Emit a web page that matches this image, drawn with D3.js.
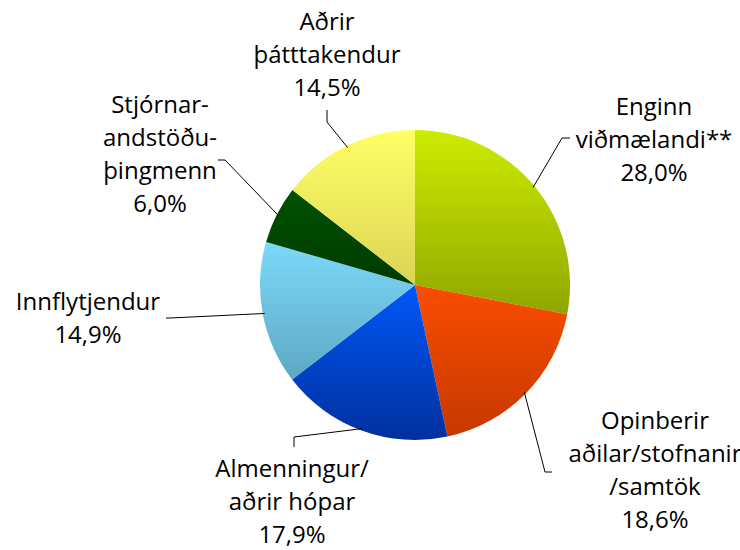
<!DOCTYPE html>
<html>
<head>
<meta charset="utf-8">
<script src="https://cdn.jsdelivr.net/npm/d3@7"></script>
<style>
  body { margin: 0; background: #fff; }
  text { font-family: "Open Sans", sans-serif; font-size: 24px; fill: #000; }
</style>
</head>
<body>
<svg width="740" height="550"></svg>
<script>
// ### Data ###
var categories = ['Enginn viðmælandi**', 'Opinberir aðilar/stofnanir/samtök', 'Almenningur/aðrir hópar',
                  'Innflytjendur', 'Stjórnarandstöðuþingmenn', 'Aðrir þátttakendur'];
var values = [28.0, 18.6, 17.9, 14.9, 6.0, 14.5];
var valueLabels = ['28,0%', '18,6%', '17,9%', '14,9%', '6,0%', '14,5%'];
var labelLines = [
  ['Enginn', 'viðmælandi**'],
  ['Opinberir', 'aðilar/stofnanir', '/samtök'],
  ['Almenningur/', 'aðrir hópar'],
  ['Innflytjendur'],
  ['Stjórnar-', 'andstöðu-', 'þingmenn'],
  ['Aðrir', 'þátttakendur']
];

// gradient top / bottom colours for each slice
var topColors = ['#cdec00', '#fa4d00', '#0058f8', '#7cd9f9', '#005200', '#ffff66'];
var bottomColors = ['#8fa600', '#c63800', '#00309e', '#5ea8c4', '#003a00', '#dad455'];

// ### Layout ###
var cx = 415, cy = 285, radius = 155;
var lineH = 33;
// label block: centre x, first baseline y ; leader: elbow and end
var labelPos = [
  {x: 654, y: 115, elbow: [562, 138], end: [570, 138]},
  {x: 655, y: 429, elbow: [545, 472], end: [552, 472]},
  {x: 292, y: 477, elbow: [294, 437], end: [294, 447]},
  {x: 88,  y: 310, elbow: [170, 318], end: [166, 318]},
  {x: 160, y: 113, elbow: [225, 160], end: [218, 160]},
  {x: 327, y: 30,  elbow: [327, 122], end: [327, 110]}
];

var svg = d3.select('svg');

var defs = svg.append('defs');
values.forEach(function(v, i) {
  var g = defs.append('linearGradient')
    .attr('id', 'grad' + i)
    .attr('x1', 0).attr('y1', 0).attr('x2', 0).attr('y2', 1);
  g.append('stop').attr('offset', '0%').attr('stop-color', topColors[i]);
  g.append('stop').attr('offset', '100%').attr('stop-color', bottomColors[i]);
});

var pie = d3.pie().sort(null).value(d => d);
var arcs = pie(values);
var arc = d3.arc().innerRadius(0).outerRadius(radius);

var chart = svg.append('g').attr('transform', `translate(${cx},${cy})`);

chart.selectAll('path')
  .data(arcs)
  .enter()
  .append('path')
  .attr('d', arc)
  .attr('fill', (d, i) => `url(#grad${i})`);

// ### Leader lines ###
arcs.forEach(function(d, i) {
  var mid = (d.startAngle + d.endAngle) / 2;
  var sx = cx + Math.sin(mid) * (radius - 2);
  var sy = cy - Math.cos(mid) * (radius - 2);
  var p = labelPos[i];
  svg.append('polyline')
    .attr('points', [[sx, sy], p.elbow, p.end].map(q => q.join(',')).join(' '))
    .attr('fill', 'none')
    .attr('stroke', '#000')
    .attr('stroke-width', 1);
});

// ### Labels ###
labelLines.forEach(function(lines, i) {
  var p = labelPos[i];
  var all = lines.concat([valueLabels[i]]);
  var t = svg.append('text').attr('text-anchor', 'middle');
  all.forEach(function(s, j) {
    t.append('tspan').attr('x', p.x).attr('y', p.y + j * lineH).text(s);
  });
});
</script>
</body>
</html>
